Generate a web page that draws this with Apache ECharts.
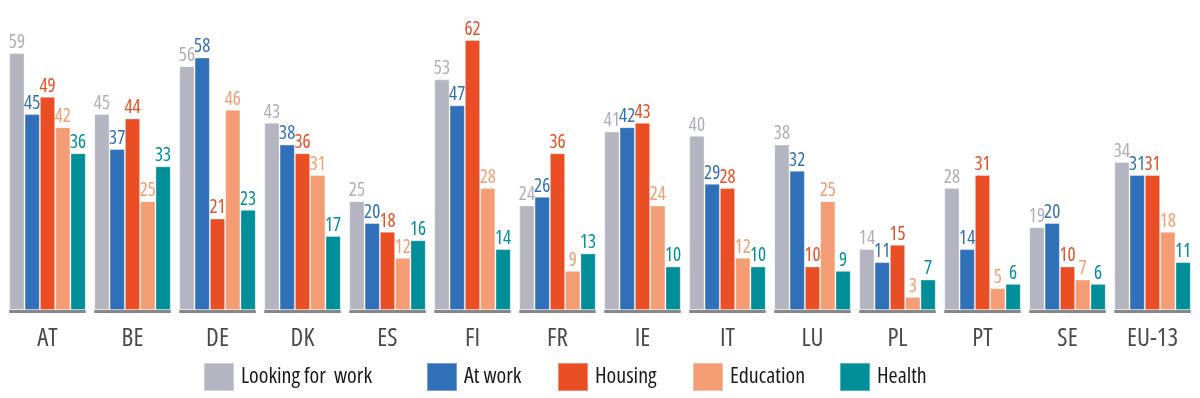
<!DOCTYPE html>
<html>
<head>
<meta charset="utf-8">
<script src="https://cdn.jsdelivr.net/npm/echarts@6/dist/echarts.min.js"></script>
<style>html,body{margin:0;padding:0;background:#fff}#c{width:1200px;height:398px}</style>
</head>
<body>
<div id="c"></div>
<script>
const categories = ['AT','BE','DE','DK','ES','FI','FR','IE','IT','LU','PL','PT','SE','EU-13'];
const seriesNames = ['Looking for  work','At work','Housing','Education','Health'];
const lookingForWork = [59,45,56,43,25,53,24,41,40,38,14,28,19,34];
const atWork        = [45,37,58,38,20,47,26,42,29,32,11,14,20,31];
const housing       = [49,44,21,36,18,62,36,43,28,10,15,31,10,31];
const education     = [42,25,46,31,12,28,9,24,12,25,3,5,7,18];
const health        = [36,33,23,17,16,14,13,10,10,9,7,6,6,11];
const colors = ['#b5b5c1','#2f70b8','#e94e24','#f49c73','#008e98'];
const labelColors = ['#aeaebb','#2f70b8','#e94e24','#f49c73','#008e98'];
const legendLeft = [203,426,557,692,839];

const FONT = '"Open Sans","Roboto",sans-serif';
const STRETCH = 'condensed';
const values = [lookingForWork, atWork, housing, education, health];

const barSeries = values.map((d,i)=>({
  name: seriesNames[i], type:'bar', data:d,
  barGap:'0%', barCategoryGap:'10%',
  itemStyle:{color:colors[i], borderColor:'rgba(255,255,255,0.35)', borderWidth:1},
  label:{show:true, position:'top', distance:1, color:labelColors[i], fontFamily:FONT, fontWeight:STRETCH, fontSize:19},
  emphasis:{disabled:true}, animation:false
}));

const baseSeries = {
  type:'custom', silent:true, animation:false, z:5,
  data: categories.map((c,i)=>[i,0]),
  renderItem:(params, api)=>{
    const p = api.coord([api.value(0), 0]);
    const w = api.size([1,0])[0];
    return {type:'rect', shape:{x:p[0]-w*0.45, y:p[1], width:w*0.9, height:3}, style:{fill:'#878787'}};
  }
};

const legends = seriesNames.map((n,i)=>({
  data:[n], left:legendLeft[i], top:362, padding:0, itemWidth:30, itemHeight:28,
  icon:'rect', selectedMode:false,
  textStyle:{fontFamily:FONT, fontWeight:STRETCH, fontSize:22, color:'#1a1a1a', padding:[0,0,0,2]}
}));

const chart = echarts.init(document.getElementById('c'));
chart.setOption({
  animation:false,
  color: colors,
  grid:{left:5, right:5, top:27, bottom:88, containLabel:false},
  legend: legends,
  xAxis:{type:'category', data:categories,
    axisLine:{show:false}, axisTick:{show:false},
    axisLabel:{interval:0, margin:16, color:'#4a4a4a', fontFamily:FONT, fontWeight:STRETCH, fontSize:25}},
  yAxis:{type:'value', min:0, max:65, show:false, splitLine:{show:false}},
  series:[...barSeries, baseSeries]
});
</script>
</body>
</html>
